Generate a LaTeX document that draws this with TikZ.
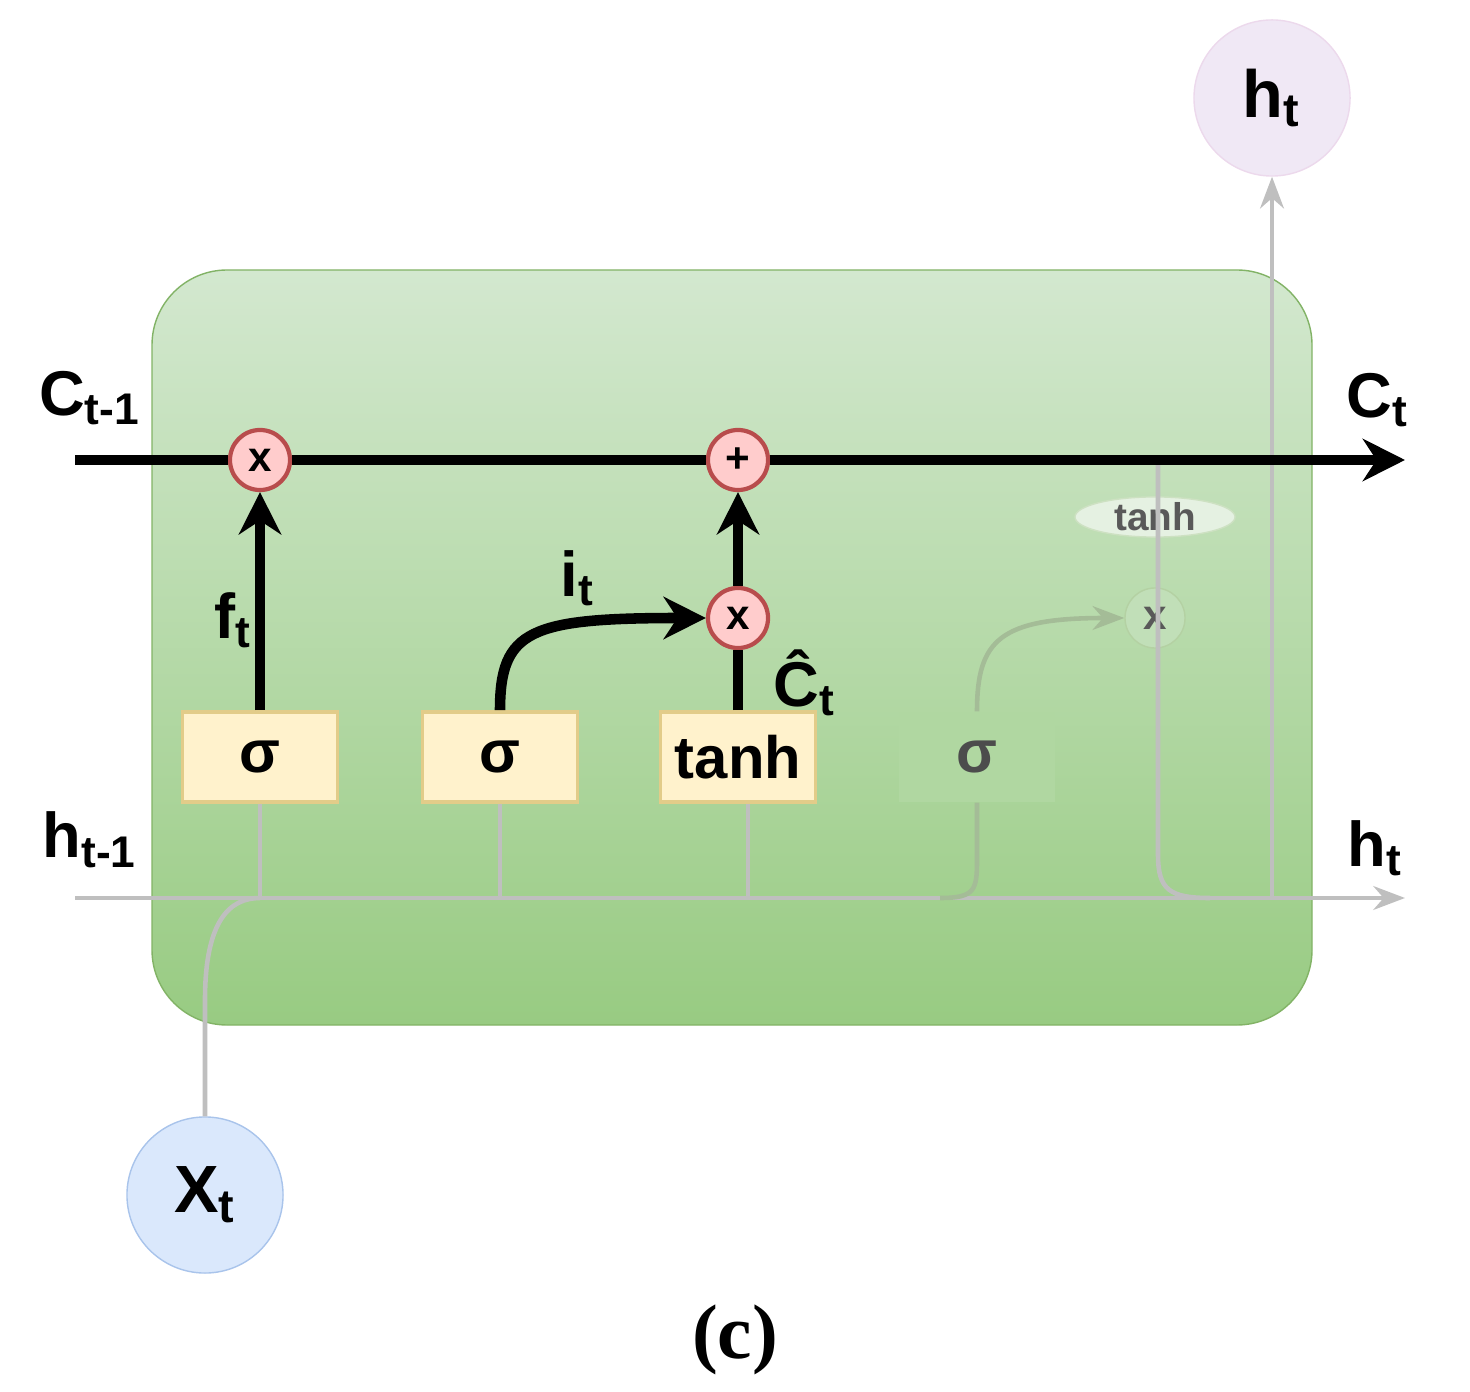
\documentclass[tikz,border=0pt]{standalone}
\usepackage{fontspec}
\setmainfont{Liberation Sans}
\newfontfamily\serifc{Liberation Serif}
\usetikzlibrary{arrows.meta,shapes.geometric}
\definecolor{gtop}{HTML}{D3E8CF}
\definecolor{gbot}{HTML}{98CB82}
\definecolor{gedge}{HTML}{82B366}
\definecolor{bfill}{HTML}{FFF2CC}
\definecolor{bdraw}{HTML}{D6B656}
\definecolor{xfill}{HTML}{DAE8FC}
\definecolor{xdraw}{HTML}{A9C4EB}
\definecolor{hfill}{HTML}{F0E8F5}
\begin{document}
\begin{tikzpicture}[x=0.01cm,y=-0.01cm,
 op/.style={circle,draw=red!60!black!70,fill=red!20,line width=1.2pt,minimum size=0.6cm,inner sep=0pt,font=\bfseries\fontsize{12}{12}\selectfont},
 fop/.style={circle,draw=gedge!60,fill=gtop!70!gbot,minimum size=0.6cm,inner sep=0pt,text=black!65,font=\bfseries\fontsize{12}{12}\selectfont},
 box/.style={rectangle,draw=bdraw!70,fill=bfill,line width=1pt,minimum width=1.55cm,minimum height=0.9cm,inner sep=0pt,font=\bfseries\fontsize{17}{17}\selectfont},
 lab/.style={font=\bfseries\fontsize{18}{18}\selectfont},
 big/.style={circle,minimum size=1.56cm,inner sep=0pt,font=\bfseries\fontsize{19}{19}\selectfont},
 main/.style={line width=3pt,-{Stealth[length=12pt,width=12pt]}},
 gray/.style={draw=black!25,line width=1.3pt}]
\useasboundingbox (0,0) rectangle (1470,1392);
\shade[top color=gtop,bottom color=gbot,draw=gedge,rounded corners=0.75cm] (152,270) rectangle (1312,1025);
\node[op] (m1) at (260,460) {x};
\node[op] (p1) at (738,460) {+};
\node[op] (m2) at (738,618) {x};
\node[fop] (m3) at (1155,618) {x};
\node[box] (s1) at (260,757) {σ};
\node[box] (s2) at (500,757) {σ};
\node[box] (t1) at (738,757) {tanh};
\node[rectangle,fill=gtop!40!gbot,minimum width=1.55cm,minimum height=0.9cm,font=\bfseries\fontsize{17}{17}\selectfont,text=black!70] (s3) at (977,757) {σ};
\node[ellipse,draw=gedge!40,fill=gtop!60,minimum width=1.6cm,minimum height=0.4cm,inner sep=0pt,text=black!65,font=\bfseries\fontsize{11}{11}\selectfont] (th) at (1155,517) {tanh};
\node[big,draw=xdraw,fill=xfill] (x) at (205,1195) {X\textsubscript{t}};
\node[big,draw=violet!15,fill=hfill] (ht) at (1272,98) {h\textsubscript{t}};
\coordinate (cin) at (75,460); \coordinate (cout) at (1405,460);
\coordinate (hin) at (75,898); \coordinate (hout) at (1405,898);
% gray lines
\draw[gray,-{Stealth[length=9pt]}] (hin) -- (hout);
\draw[gray] (s1) -- (260,898); \draw[gray] (s2) -- (500,898); \draw[gray] (t1.south-|748,0) -- (748,898);
\draw[gray] (x) -- (205,1000) .. controls (205,920) and (230,898) .. (260,898);
\draw[draw=gedge!80!black!60,line width=1.3pt] (940,898) .. controls (975,898) and (977,890) .. (977,860) -- (s3.south);
\draw[draw=gedge!80!black!60,line width=1.3pt,-{Stealth[length=9pt]}] (s3.north) .. controls (977,640) and (1000,618) .. (m3);
\draw[gray] (1158,460) -- (1158,855) .. controls (1158,890) and (1170,898) .. (1210,898);
\draw[gray,-{Stealth[length=9pt]}] (1272,898) -- (ht);
% main
\draw[main] (cin) -- (m1) -- (p1) -- (cout);
\draw[main] (s1) -- (m1);
\draw[main] (m2) -- (p1);
\draw[line width=3pt] (t1) -- (m2);
\draw[main] (s2.north) .. controls (500,630) and (530,618) .. (m2);
\node[lab] at (90,398) {C\textsubscript{t-1}};
\node[lab] at (1378,400) {C\textsubscript{t}};
\node[lab] at (90,840) {h\textsubscript{t-1}};
\node[lab] at (1375,848) {h\textsubscript{t}};
\node[lab] at (233,620) {f\textsubscript{t}};
\node[lab] at (578,578) {i\textsubscript{t}};
\node[lab] at (805,683) {Ĉ\textsubscript{t}};
\node[font=\serifc\bfseries\fontsize{22}{22}\selectfont] at (735,1340) {(c)};
\end{tikzpicture}
\end{document}
